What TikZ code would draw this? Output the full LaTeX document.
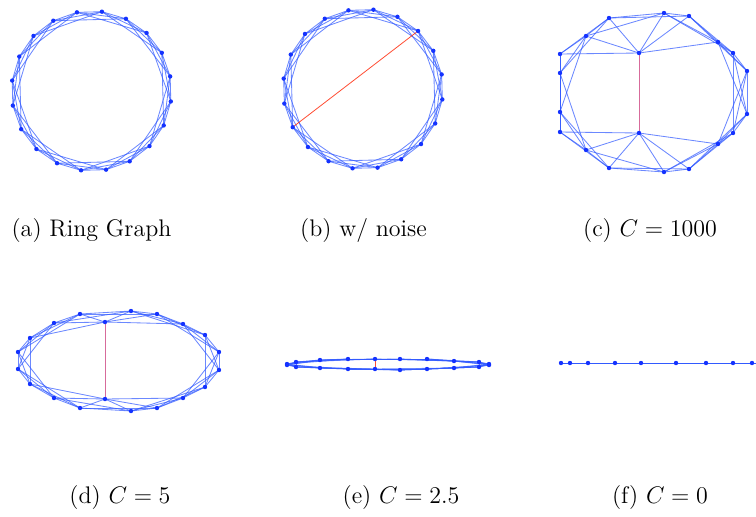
\documentclass[tikz,border=0pt]{standalone}
\definecolor{vblue}{RGB}{20,50,255}
\definecolor{eblue}{RGB}{50,90,255}
\definecolor{mauve}{RGB}{205,70,130}
\tikzset{
  vtx/.style={circle, fill=vblue, inner sep=0pt, minimum size=2.2pt},
  edge/.style={draw=eblue, line width=0.42pt, opacity=0.72},
  noise/.style={draw=red!75!orange, line width=0.4pt, opacity=0.8},
  lbl/.style={font=\large, anchor=base},
}
\begin{document}
\begin{tikzpicture}[x=0.5pt, y=-0.5pt]
    \useasboundingbox (0,0) rectangle (756,516);
    % (a) 环图
    \foreach \i in {0,...,19}
        \coordinate (a\i) at ({91.5+80*cos(10.5+18*\i)},{91-80*sin(10.5+18*\i)});
    \foreach \i in {0,...,19}
        \foreach \k in {1,2,3}{
            \pgfmathtruncatemacro\j{mod(\i+\k,20)}
            \draw[edge] (a\i) -- (a\j);
        }
    \foreach \i in {0,...,19} \node[vtx] (da\i) at (a\i) {};
    \node[lbl] (la) at (91.5,236) {(a) Ring Graph};
    % (b) 加噪声边
    \foreach \i in {0,...,19}
        \coordinate (b\i) at ({363+80*cos(10.5+18*\i)},{89-80*sin(10.5+18*\i)});
    \foreach \i in {0,...,19}
        \foreach \k in {1,2,3}{
            \pgfmathtruncatemacro\j{mod(\i+\k,20)}
            \draw[edge] (b\i) -- (b\j);
        }
    \draw[noise] (b2) -- (b11);
    \foreach \i in {0,...,19} \node[vtx] (db\i) at (b\i) {};
    \node[lbl] (lb) at (363.5,236) {(b) w/ noise};
    % (c) C = 1000
    \foreach \x/\y [count=\i from 0] in {560/54, 586/36, 609/18, 639/53, 664/13,
        689/16, 718/42, 733/53, 747/71, 747/114, 733/133, 718/144, 689/169,
        664/172, 639/133, 609/168, 586/150, 560/132, 560/112, 560/73}
        \coordinate (c\i) at (\x,\y);
    \foreach \i in {0,...,19}
        \foreach \k in {1,2,3}{
            \pgfmathtruncatemacro\j{mod(\i+\k,20)}
            \draw[edge] (c\i) -- (c\j);
        }
    \draw[noise, draw=mauve] (c3) -- (c14);
    \foreach \i in {0,...,19} \node[vtx] (dc\i) at (c\i) {};
    \node[lbl] (lc) at (650,236) {(c) $C=1000$};
    % (d) C = 5
    \foreach \x/\y [count=\i from 0] in {18/352, 30/338, 54/323, 80/314, 105/322,
        131/311, 157/314, 183/324, 205/335, 219/352, 219/370, 205/387, 183/398,
        157/408, 131/411, 105/399, 80/408, 54/398, 30/384, 18/369}
        \coordinate (d\i) at (\x,\y);
    \foreach \i in {0,...,19}
        \foreach \k in {1,2,3}{
            \pgfmathtruncatemacro\j{mod(\i+\k,20)}
            \draw[edge] (d\i) -- (d\j);
        }
    \draw[noise, draw=mauve] (d4) -- (d15);
    \foreach \i in {0,...,19} \node[vtx] (dd\i) at (d\i) {};
    \node[lbl] (ld) at (120,503) {(d) $C=5$};
    % (e) C = 2.5
    \foreach \x/\y [count=\i from 0] in {287/364, 296/362, 320/360, 348/359, 375/359,
        400/359, 427/359, 454/361, 479/362, 489/364, 489/365, 479/367, 454/368,
        427/369, 400/370, 375/369, 348/369, 320/368, 296/367, 287/365}
        \coordinate (e\i) at (\x,\y);
    \foreach \i in {0,...,19}
        \foreach \k in {1,2,3}{
            \pgfmathtruncatemacro\j{mod(\i+\k,20)}
            \draw[edge] (e\i) -- (e\j);
        }
    \draw[noise] (e4) -- (e15);
    \foreach \i in {0,...,19} \node[vtx] (de\i) at (e\i) {};
    \node[lbl] (le) at (401,503) {(e) $C=2.5$};
    % (f) C = 0
    \foreach \x [count=\i] in {561,570,588,615,641,676,706,733,752}
        \coordinate (f\i) at (\x,363);
    \coordinate (fend) at (756,363);
    \draw[edge, opacity=1] (f1) -- (fend);
    \foreach \i in {1,...,9} \node[vtx] (df\i) at (f\i) {};
    \node[lbl] (lf) at (660,503) {(f) $C=0$};
\end{tikzpicture}
\end{document}
